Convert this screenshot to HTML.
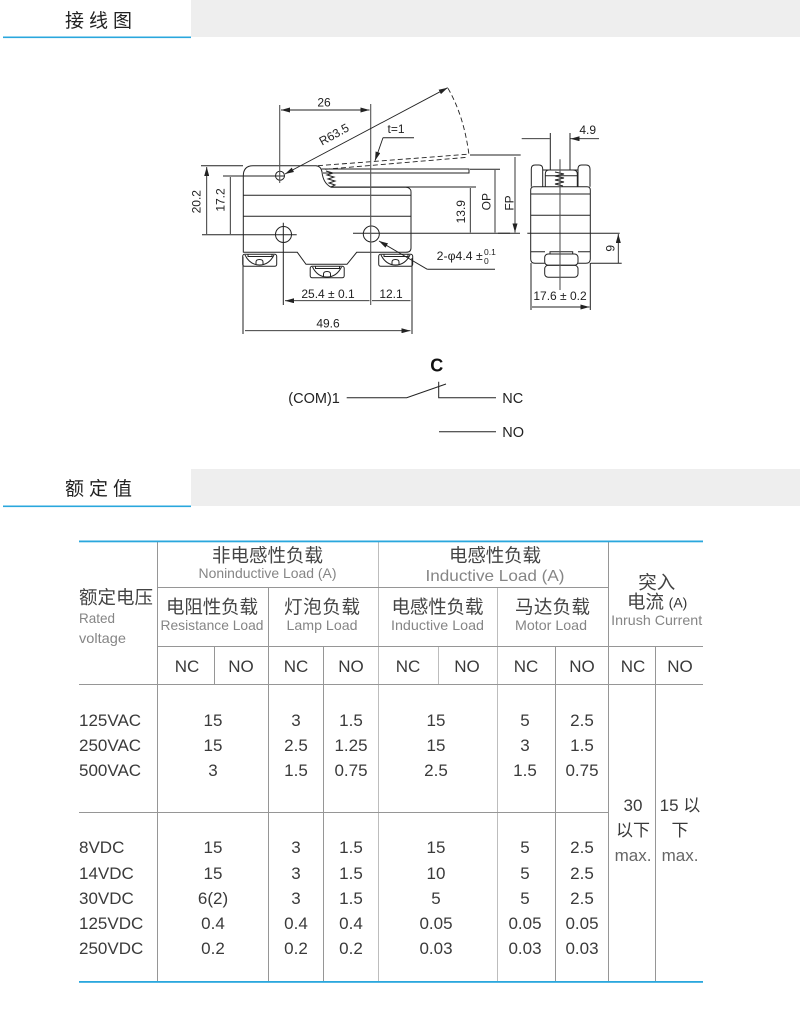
<!DOCTYPE html>
<html><head><meta charset="utf-8"><style>
html,body{margin:0;padding:0;background:#fff}
svg{display:block}
.d{font-family:"Liberation Sans",sans-serif;font-size:12px;fill:#222}
.l{fill:none;stroke:#222;stroke-width:1}
.g{fill:none;stroke:#555;stroke-width:1.1}
.a{fill:none;stroke:#222;stroke-width:.9;marker-start:url(#ar);marker-end:url(#ar)}
.e{fill:none;stroke:#222;stroke-width:.9;marker-end:url(#ar)}
.dash{fill:none;stroke:#222;stroke-width:.9;stroke-dasharray:5 3}
.t{fill:none;stroke:#969696;stroke-width:1}
.lt{fill:none;stroke:#bdbdbd;stroke-width:1}
.c{font-family:"Liberation Sans","Noto Sans CJK SC",sans-serif;font-size:18.5px;fill:#444;text-anchor:middle}
.s{font-family:"Liberation Sans",sans-serif;font-size:14px;fill:#858585;text-anchor:middle}
.v{font-family:"Liberation Sans","Noto Sans CJK SC",sans-serif;font-size:17px;fill:#3a3a3a;text-anchor:middle}
.h{font-family:"Liberation Sans","Noto Sans CJK SC",sans-serif;font-size:19px;fill:#222;letter-spacing:5px;text-anchor:middle}
</style></head><body>
<svg width="800" height="1014" viewBox="0 0 800 1014" xmlns="http://www.w3.org/2000/svg">
<defs>
<marker id="ar" viewBox="0 0 9 5" refX="9" refY="2.5" markerWidth="9" markerHeight="5" markerUnits="userSpaceOnUse" orient="auto-start-reverse"><path d="M0 0L9 2.5L0 5Z" fill="#222"/></marker>
</defs>

<!-- Section headers -->
<rect x="191" y="0" width="609" height="37" fill="#eeeeee"/>
<rect x="3" y="36.5" width="188" height="1.6" fill="#2aa7dd"/>
<text class="h" x="101" y="27">接线图</text>
<rect x="191" y="469" width="609" height="37" fill="#eeeeee"/>
<rect x="3" y="505.5" width="188" height="1.6" fill="#2aa7dd"/>
<text class="h" x="101" y="495">额定值</text>

<!-- Main body -->
<path class="l" d="M243.3 252.5V176Q243.3 165.7 253 165.7H316Q321 166 322 172Q323 183 331 187.2H406Q411 187.5 411 192V248Q411 252.3 406 252.3H356.7L347 264.3H306L297.3 252.3H243.3"/>
<path class="l" d="M243.3 195.3H411M243.3 216.3H411"/>
<circle class="l" cx="280" cy="175.7" r="4.5"/>
<circle class="l" cx="283.5" cy="234.5" r="8"/>
<circle class="l" cx="371.3" cy="234" r="8"/>
<!-- lever -->
<path class="l" d="M321.7 169H469V173H323"/>
<path class="dash" d="M318 165.7L467.3 154.3M325 169.3L467.3 157.3"/>
<path class="dash" d="M448 88.3Q464 116 469 155"/>
<path class="l" d="M326 171l7 2l-6 2l7 2l-6 2l7 2l-6 2l6 2l-4 2"/>
<!-- Terminals -->
<g id="term"><rect class="l" x="242.7" y="254.3" width="34" height="12" rx="2"/><path class="l" d="M245 255Q250 265 259.5 265Q269 265 274 255M248 254V256.5H272V254M256 265V262Q256 259.5 259.5 259.5Q263 259.5 263 262V265"/></g>
<g transform="translate(67.5,12)"><rect class="l" x="242.7" y="254.3" width="34" height="11.5" rx="2"/><path class="l" d="M245 255Q250 265 259.5 265Q269 265 274 255M248 254V256.5H272V254M256 265V262Q256 259.5 259.5 259.5Q263 259.5 263 262V265"/></g>
<g transform="translate(136,0)"><rect class="l" x="242.7" y="254.3" width="34" height="12" rx="2"/><path class="l" d="M245 255Q250 265 259.5 265Q269 265 274 255M248 254V256.5H272V254M256 265V262Q256 259.5 259.5 259.5Q263 259.5 263 262V265"/></g>
<!-- Extension lines -->
<path class="l" d="M201 165.7H243M223 176H285M202 234.7H296.7M353 233.3H510M331 187H476M470 155H510.7M470 169.3H500"/>
<path class="g" d="M279.7 105V183M370.7 104V305"/>
<path class="l" d="M283.3 222.7V305M243 256.7V334M412 258V334"/>
<!-- Dimensions -->
<path class="a" d="M281 110H369.5"/>
<path class="a" d="M285 174L447.7 87.7"/>
<path class="l" d="M414 137.7H383"/>
<path class="e" d="M383 137.7L375 160.7"/>
<path class="a" d="M206.7 167V234M230.3 177V234M470.3 188V232.5M495 170V232.5M515 157V232.5"/>
<path class="a" d="M285 300.7H369.5M372 300.7H410.5M245 330.7H410.5"/>
<path class="l" d="M427.3 269.3H495"/>
<path class="e" d="M427.3 269.3L379 241"/>
<text class="d" x="324" y="106.5" text-anchor="middle">26</text>
<text class="d" transform="translate(336,138) rotate(-29)" text-anchor="middle">R63.5</text>
<text class="d" x="396" y="133" text-anchor="middle">t=1</text>
<text class="d" transform="translate(200.5,201.7) rotate(-90)" text-anchor="middle">20.2</text>
<text class="d" transform="translate(224.5,200) rotate(-90)" text-anchor="middle">17.2</text>
<text class="d" transform="translate(465,211.7) rotate(-90)" text-anchor="middle">13.9</text>
<text class="d" transform="translate(490.5,201.7) rotate(-90)" text-anchor="middle">OP</text>
<text class="d" transform="translate(513.5,203) rotate(-90)" text-anchor="middle">FP</text>
<text class="d" x="328" y="298" text-anchor="middle">25.4 ± 0.1</text>
<text class="d" x="391" y="298" text-anchor="middle">12.1</text>
<text class="d" x="328" y="327.5" text-anchor="middle">49.6</text>
<text class="d" x="436.7" y="260" textLength="46" lengthAdjust="spacingAndGlyphs">2-φ4.4 ±</text>
<text class="d" style="font-size:8.5px" x="484" y="255">0.1</text>
<text class="d" style="font-size:8.5px" x="484" y="264">0</text>

<!-- Side view -->
<path class="l" d="M530.7 190Q530.7 186.7 534 186.7H587Q590.3 186.7 590.3 190V259Q590.3 263.3 586 263.3H578M544.7 263.3H535Q530.7 263.3 530.7 259V190"/>
<path class="l" d="M530.7 194H590.3M530.7 215.3H590.3M530.7 251.7H545M578 251.7H590.3"/>
<path class="l" d="M531.3 186.7V169Q531.3 165 535 165H539Q542.7 165 542.7 169V186.7M578 186.7V169Q578 165 581.5 165H586Q590 165 590 169V186.7M542.7 170H578"/>
<path class="l" d="M545.3 186.7V174Q545.3 170 549 170H573Q577.3 170 577.3 174V186.7M545.3 175.7H577.3"/>
<path class="l" d="M555 172l9 2l-9 2l9 2l-9 2l9 2l-9 2l8 2"/>
<rect class="l" x="544.7" y="254" width="33.3" height="11.3" rx="3.5"/>
<rect class="l" x="544.7" y="265.3" width="33.3" height="12" rx="3.5"/>
<path class="l" d="M550 254V251.7H572.7V254"/>
<path class="g" d="M560 159.3V290"/>
<path class="l" d="M550.3 133V170M570 133V170M527.3 233.3H619.7M590.7 263.3H621.7M531 263V310M590.3 263V310"/>
<path class="e" d="M521.7 138.7H549.8M599 138.7H570.5"/>
<path class="a" d="M618.3 234V263M532 307H589.5"/>
<path class="l" d="M498 155H520.7M498 233.3H520"/>
<text class="d" x="587.7" y="134" text-anchor="middle">4.9</text>
<text class="d" transform="translate(614.5,248.3) rotate(-90)" text-anchor="middle">9</text>
<text class="d" x="560" y="300" text-anchor="middle">17.6 ± 0.2</text>

<!-- Schematic -->
<text x="436.7" y="371.5" text-anchor="middle" style="font:bold 18px 'Liberation Sans',sans-serif;fill:#111">C</text>
<text x="288.3" y="403" style="font:14.5px 'Liberation Sans',sans-serif;fill:#222">(COM)1</text>
<text x="502.3" y="403" style="font:14.5px 'Liberation Sans',sans-serif;fill:#222">NC</text>
<text x="502.3" y="437" style="font:14.5px 'Liberation Sans',sans-serif;fill:#222">NO</text>
<path fill="none" stroke="#222" stroke-width="1" d="M346.7 397.7H406.7L446 384M438.7 381.7V397.7H496M439 431.7H496"/>

<!-- Table lines -->
<path class="t" d="M157.5 541V982M268.5 587V982M323.5 646V982M214.5 646V684M608.5 541V982M655.5 646V982M555.5 646V982"/>
<path class="lt" d="M378.5 541V982M497.5 587V982M438.5 646V684"/>
<path class="t" d="M157 587.5H608M157 646.5H703M79 684.5H703M79 812.5H608"/>
<rect x="79" y="540.5" width="624" height="1.8" fill="#2aa7dd"/>
<rect x="79" y="981" width="624" height="1.8" fill="#2aa7dd"/>

<!-- Table head -->
<text class="c" x="267.5" y="562" textLength="111">非电感性负载</text>
<text class="s" x="267.5" y="578" textLength="138" lengthAdjust="spacingAndGlyphs" font-size="13">Noninductive Load (A)</text>
<text class="c" x="495" y="562" textLength="92">电感性负载</text>
<text class="s" x="495" y="581" textLength="139" lengthAdjust="spacingAndGlyphs" style="font-size:16px">Inductive Load (A)</text>
<text class="c" x="212" y="613.5" textLength="92">电阻性负载</text>
<text class="s" x="212" y="630" textLength="103" lengthAdjust="spacingAndGlyphs">Resistance Load</text>
<text class="c" x="322" y="613.5" textLength="76">灯泡负载</text>
<text class="s" x="322" y="630" textLength="71" lengthAdjust="spacingAndGlyphs">Lamp Load</text>
<text class="c" x="437.5" y="613.5" textLength="92">电感性负载</text>
<text class="s" x="437.5" y="630" textLength="93" lengthAdjust="spacingAndGlyphs">Inductive Load</text>
<text class="c" x="552.5" y="613.5" textLength="75">马达负载</text>
<text class="s" x="551" y="630" textLength="72" lengthAdjust="spacingAndGlyphs">Motor Load</text>
<text class="c" x="656.7" y="589">突入</text>
<text class="c" x="645.5" y="608.5">电流</text>
<text x="678" y="607.5" text-anchor="middle" style="font:14px 'Liberation Sans',sans-serif;fill:#333">(A)</text>
<text class="s" x="656.7" y="625" textLength="91" lengthAdjust="spacingAndGlyphs">Inrush Current</text>
<text class="c" x="116" y="604" textLength="74">额定电压</text>
<text class="s" x="79" y="623" style="text-anchor:start" textLength="36" lengthAdjust="spacingAndGlyphs">Rated</text>
<text class="s" x="79" y="643" style="text-anchor:start" textLength="47" lengthAdjust="spacingAndGlyphs">voltage</text>

<g class="v">
<text class="v" x="187" y="672">NC</text><text class="v" x="241" y="672">NO</text>
<text class="v" x="296" y="672">NC</text><text class="v" x="351" y="672">NO</text>
<text class="v" x="408" y="672">NC</text><text class="v" x="467" y="672">NO</text>
<text class="v" x="526" y="672">NC</text><text class="v" x="582" y="672">NO</text>
<text class="v" x="633" y="672">NC</text><text class="v" x="680" y="672">NO</text>
</g>

<!-- Values -->
<g text-anchor="start">
<text class="v" style="text-anchor:start" x="79" y="726">125VAC</text>
<text class="v" style="text-anchor:start" x="79" y="751">250VAC</text>
<text class="v" style="text-anchor:start" x="79" y="776">500VAC</text>
<text class="v" style="text-anchor:start" x="79" y="853">8VDC</text>
<text class="v" style="text-anchor:start" x="79" y="879">14VDC</text>
<text class="v" style="text-anchor:start" x="79" y="904">30VDC</text>
<text class="v" style="text-anchor:start" x="79" y="929">125VDC</text>
<text class="v" style="text-anchor:start" x="79" y="954">250VDC</text>
</g>
<text class="v" x="213" y="726">15</text><text class="v" x="296" y="726">3</text><text class="v" x="351" y="726">1.5</text><text class="v" x="436" y="726">15</text><text class="v" x="525" y="726">5</text><text class="v" x="582" y="726">2.5</text>
<text class="v" x="213" y="751">15</text><text class="v" x="296" y="751">2.5</text><text class="v" x="351" y="751">1.25</text><text class="v" x="436" y="751">15</text><text class="v" x="525" y="751">3</text><text class="v" x="582" y="751">1.5</text>
<text class="v" x="213" y="776">3</text><text class="v" x="296" y="776">1.5</text><text class="v" x="351" y="776">0.75</text><text class="v" x="436" y="776">2.5</text><text class="v" x="525" y="776">1.5</text><text class="v" x="582" y="776">0.75</text>
<text class="v" x="213" y="853">15</text><text class="v" x="296" y="853">3</text><text class="v" x="351" y="853">1.5</text><text class="v" x="436" y="853">15</text><text class="v" x="525" y="853">5</text><text class="v" x="582" y="853">2.5</text>
<text class="v" x="213" y="879">15</text><text class="v" x="296" y="879">3</text><text class="v" x="351" y="879">1.5</text><text class="v" x="436" y="879">10</text><text class="v" x="525" y="879">5</text><text class="v" x="582" y="879">2.5</text>
<text class="v" x="213" y="904">6(2)</text><text class="v" x="296" y="904">3</text><text class="v" x="351" y="904">1.5</text><text class="v" x="436" y="904">5</text><text class="v" x="525" y="904">5</text><text class="v" x="582" y="904">2.5</text>
<text class="v" x="213" y="929">0.4</text><text class="v" x="296" y="929">0.4</text><text class="v" x="351" y="929">0.4</text><text class="v" x="436" y="929">0.05</text><text class="v" x="525" y="929">0.05</text><text class="v" x="582" y="929">0.05</text>
<text class="v" x="213" y="954">0.2</text><text class="v" x="296" y="954">0.2</text><text class="v" x="351" y="954">0.2</text><text class="v" x="436" y="954">0.03</text><text class="v" x="525" y="954">0.03</text><text class="v" x="582" y="954">0.03</text>

<text class="v" x="633" y="811">30</text>
<text class="v" x="633" y="836">以下</text>
<text class="v" x="633" y="861" style="fill:#666">max.</text>
<text class="v" x="680" y="811">15 以</text>
<text class="v" x="680" y="836">下</text>
<text class="v" x="680" y="861" style="fill:#666">max.</text>
</svg>
</body></html>
